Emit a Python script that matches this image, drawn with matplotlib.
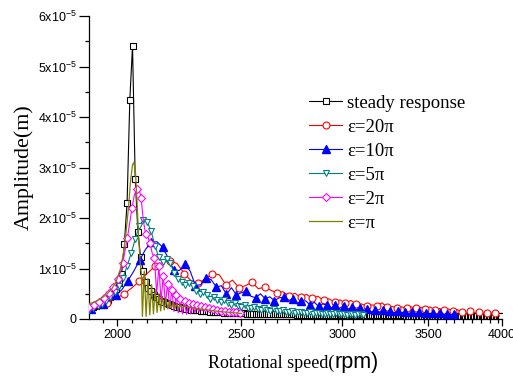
import numpy as np
import matplotlib
matplotlib.use("Agg")
import matplotlib.pyplot as plt
from matplotlib.ticker import FixedLocator, NullFormatter

plt.rcParams["mathtext.fontset"] = "custom"
plt.rcParams["mathtext.rm"] = "Liberation Sans"

# amplitudes are in units of 1e-5 m
steady_rpm = np.arange(1905, 4000, 10)
steady_amp = [
    0.220, 0.238, 0.258, 0.282, 0.310, 0.343, 0.384, 0.436, 0.502, 0.590,
    0.713, 0.900, 1.490, 2.300, 4.330, 5.410, 2.770, 1.730, 1.230, 0.960,
    0.740, 0.620, 0.545, 0.485, 0.438, 0.397, 0.363, 0.336, 0.312, 0.291,
    0.274, 0.259, 0.245, 0.233, 0.222, 0.212, 0.204, 0.196, 0.188, 0.182,
    0.175, 0.170, 0.165, 0.160, 0.155, 0.151, 0.147, 0.143, 0.140, 0.136,
    0.133, 0.130, 0.128, 0.125, 0.123, 0.120, 0.118, 0.116, 0.114, 0.112,
    0.110, 0.109, 0.108, 0.107, 0.106, 0.105, 0.104, 0.103, 0.102, 0.101,
    0.100, 0.099, 0.098, 0.098, 0.097, 0.096, 0.095, 0.095, 0.094, 0.093,
    0.093, 0.092, 0.091, 0.091, 0.090, 0.090, 0.089, 0.088, 0.088, 0.087,
    0.087, 0.086, 0.086, 0.085, 0.085, 0.084, 0.084, 0.083, 0.083, 0.083,
    0.082, 0.082, 0.081, 0.081, 0.081, 0.080, 0.080, 0.079, 0.079, 0.079,
    0.078, 0.078, 0.078, 0.077, 0.077, 0.077, 0.076, 0.076, 0.076, 0.076,
    0.075, 0.075, 0.075, 0.074, 0.074, 0.074, 0.074, 0.073, 0.073, 0.073,
    0.073, 0.072, 0.072, 0.072, 0.072, 0.072, 0.071, 0.071, 0.071, 0.071,
    0.071, 0.070, 0.070, 0.070, 0.070, 0.070, 0.069, 0.069, 0.069, 0.069,
    0.069, 0.069, 0.068, 0.068, 0.068, 0.068, 0.068, 0.068, 0.067, 0.067,
    0.067, 0.067, 0.067, 0.067, 0.067, 0.066, 0.066, 0.066, 0.066, 0.066,
    0.066, 0.066, 0.066, 0.065, 0.065, 0.065, 0.065, 0.065, 0.065, 0.065,
    0.065, 0.064, 0.064, 0.064, 0.064, 0.064, 0.064, 0.064, 0.064, 0.064,
    0.063, 0.063, 0.063, 0.063, 0.063, 0.063, 0.063, 0.063, 0.063, 0.062,
    0.062, 0.062, 0.062, 0.062, 0.062, 0.062, 0.062, 0.062, 0.062, 0.062,
]

eps20_rpm = np.arange(1905, 3990, 29.25)
eps20_amp = [
    0.22, 0.27, 0.32, 0.40, 0.49, 0.61, 0.75, 0.90, 1.04, 1.12,
    1.15, 1.10, 0.90, 0.75, 0.71, 0.80, 0.89, 0.88, 0.68, 0.77,
    0.62, 0.66, 0.73, 0.60, 0.63, 0.57, 0.52, 0.54, 0.46, 0.51,
    0.43, 0.49, 0.41, 0.45, 0.37, 0.40, 0.33, 0.38, 0.31, 0.37,
    0.29, 0.30, 0.25, 0.28, 0.26, 0.32, 0.24, 0.25, 0.22, 0.24,
    0.21, 0.24, 0.21, 0.23, 0.20, 0.24, 0.18, 0.21, 0.17, 0.20,
    0.16, 0.19, 0.13, 0.09, 0.15, 0.12, 0.14, 0.10, 0.12, 0.09,
    0.11, 0.06,
]

eps10_rpm = np.arange(1906, 3700, 22)
eps10_amp = [
    0.20, 0.24, 0.29, 0.36, 0.47, 0.58, 0.76, 0.95, 1.17, 1.38,
    1.52, 1.53, 1.42, 1.20, 0.97, 0.96, 1.08, 0.95, 0.66, 0.68,
    0.82, 0.78, 0.63, 0.66, 0.49, 0.62, 0.48, 0.52, 0.55, 0.45,
    0.42, 0.50, 0.40, 0.44, 0.36, 0.42, 0.43, 0.34, 0.40, 0.30,
    0.35, 0.36, 0.28, 0.33, 0.25, 0.30, 0.27, 0.22, 0.27, 0.21,
    0.26, 0.19, 0.23, 0.18, 0.22, 0.16, 0.20, 0.14, 0.17, 0.13,
    0.18, 0.12, 0.16, 0.11, 0.15, 0.11, 0.14, 0.10, 0.14, 0.10,
    0.13, 0.09, 0.12, 0.09, 0.11, 0.08, 0.11, 0.08, 0.10, 0.08,
    0.10, 0.08,
]

eps5_rpm = np.arange(1900, 3120, 15)
eps5_amp = [
    0.18, 0.21, 0.25, 0.30, 0.36, 0.44, 0.54, 0.66, 0.82, 1.05,
    1.30, 1.58, 1.84, 1.96, 1.93, 1.74, 1.45, 1.22, 1.12, 1.18,
    1.10, 0.92, 0.80, 0.74, 0.68, 0.72, 0.66, 0.55, 0.50, 0.54,
    0.47, 0.40, 0.44, 0.38, 0.33, 0.37, 0.31, 0.28, 0.31, 0.26,
    0.24, 0.27, 0.22, 0.21, 0.24, 0.19, 0.18, 0.21, 0.17, 0.16,
    0.19, 0.15, 0.15, 0.17, 0.13, 0.14, 0.16, 0.12, 0.13, 0.14,
    0.11, 0.12, 0.13, 0.10, 0.11, 0.12, 0.10, 0.10, 0.11, 0.09,
    0.10, 0.11, 0.09, 0.09, 0.10, 0.08, 0.09, 0.10, 0.08, 0.09,
    0.09, 0.08,
]

eps2_rpm = np.arange(1900, 2500, 8.5)
eps2_amp = [
    0.24, 0.26, 0.28, 0.31, 0.34, 0.38, 0.42, 0.47, 0.52, 0.58,
    0.64, 0.71, 0.80, 0.92, 1.10, 1.35, 1.60, 1.90, 2.20, 2.45,
    2.58, 2.60, 2.40, 1.95, 1.68, 1.62, 1.50, 1.30, 1.20, 0.50,
    1.05, 0.35, 0.86, 0.30, 0.70, 0.22, 0.58, 0.15, 0.48, 0.12,
    0.40, 0.10, 0.35, 0.09, 0.32, 0.10, 0.29, 0.12, 0.27, 0.14,
    0.25, 0.16, 0.23, 0.18, 0.21, 0.20, 0.19, 0.18, 0.17, 0.17,
    0.16, 0.16, 0.15, 0.15, 0.14, 0.14, 0.13, 0.13, 0.13, 0.12,
    0.12,
]

eps1_rpm = [
    1900, 1920, 1940, 1960, 1980, 1995, 2010, 2020, 2030, 2040,
    2048, 2055, 2060, 2066, 2072, 2078, 2084, 2088,
    2092, 2099, 2106, 2113, 2120, 2127, 2134, 2141, 2148, 2155,
    2162, 2169, 2176, 2183, 2190, 2197, 2204, 2211, 2218, 2225,
    2232, 2239, 2246, 2253,
    2270, 2300, 2350, 2400, 2450, 2500,
]
eps1_amp = [
    0.30, 0.34, 0.40, 0.48, 0.60, 0.74, 0.98, 1.25, 1.65, 2.20,
    2.75, 3.05, 3.10, 2.90, 2.30, 1.60, 1.10, 0.90,
    0.05, 0.95, 0.05, 0.80, 0.08, 0.68, 0.10, 0.58, 0.13, 0.50,
    0.16, 0.44, 0.18, 0.40, 0.20, 0.36, 0.21, 0.33, 0.21, 0.30,
    0.21, 0.28, 0.22, 0.26,
    0.24, 0.21, 0.18, 0.15, 0.13, 0.11,
]

labels = ["steady response", "\u03b5=20\u03c0", "\u03b5=10\u03c0",
          "\u03b5=5\u03c0", "\u03b5=2\u03c0", "\u03b5=\u03c0"]

fig = plt.figure(figsize=(5.13, 3.76), dpi=100)
ax = fig.add_axes([0.1735, 0.1516, 0.8051, 0.8058])

ax.plot(steady_rpm, steady_amp, color="black", lw=0.8, marker="s", ms=4.5,
        mfc="white", mec="black", mew=0.8, label=labels[0], zorder=2)
ax.plot(eps20_rpm, eps20_amp, color="red", lw=0.8, marker="o", ms=5,
        mfc="white", mec="red", mew=0.8, markevery=2, label=labels[1], zorder=3)
ax.plot(eps10_rpm, eps10_amp, color="blue", lw=0.8, marker="^", ms=5.5,
        mfc="blue", mec="blue", markevery=2, label=labels[2], zorder=4)
ax.plot(eps5_rpm, eps5_amp, color="#008080", lw=0.8, marker="v", ms=5,
        mfc="white", mec="#008080", mew=0.8, label=labels[3], zorder=5)
ax.plot(eps2_rpm, eps2_amp, color="#ff00ff", lw=0.8, marker="D", ms=4,
        mfc="white", mec="#ff00ff", mew=0.8, markevery=2, label=labels[4], zorder=6)
ax.plot(eps1_rpm, eps1_amp, color="#808000", lw=0.9, label=labels[5], zorder=7)

ax.set_xscale("log")
ax.set_xlim(1900, 4000)
ax.set_ylim(0, 6)

majors = [2000, 2500, 3000, 3500, 4000]
minors = [2000 / 10 ** 0.0115]
for a, b in zip(majors[:-1], majors[1:]):
    step = np.log10(b / a) / 8.4
    minors += [a * 10 ** (k * step) for k in range(1, 9)]
ax.xaxis.set_major_locator(FixedLocator(majors))
ax.xaxis.set_minor_locator(FixedLocator(minors))
ax.xaxis.set_minor_formatter(NullFormatter())
ax.set_xticklabels([str(m) for m in majors])

ax.set_yticks(range(7))
ax.set_yticks(np.arange(0.5, 6, 1), minor=True)
ax.set_yticklabels(["0"] + [r"$\mathregular{%dx10^{-5}}$" % i for i in range(1, 7)])

for s in ["top", "right"]:
    ax.spines[s].set_visible(False)
for s in ["left", "bottom"]:
    ax.spines[s].set_linewidth(0.9)
ax.tick_params(which="major", direction="out", length=5, width=0.9,
               labelsize=9, pad=2)
ax.tick_params(which="minor", direction="out", length=3, width=0.9)
ax.tick_params(axis="y", which="major", length=7)
for t in ax.get_xticklabels() + ax.get_yticklabels():
    t.set_fontfamily("Liberation Sans")

ax.set_ylabel("Amplitude(m)", fontfamily="Liberation Serif", fontsize=15.8, labelpad=3)
fig.text(334 / 513, 1 - 368 / 376, "Rotational speed(", ha="right", va="baseline",
         fontfamily="Liberation Serif", fontsize=13)
fig.text(335 / 513, 1 - 368 / 376, "rpm)", ha="left", va="baseline",
         fontfamily="Liberation Sans", fontsize=15.5)

ax.legend(loc="upper left", bbox_to_anchor=(300 / 513, 1 - 85 / 376),
          bbox_transform=fig.transFigure, frameon=False, numpoints=1,
          prop={"family": "Liberation Serif", "size": 13.5},
          handlelength=1.75, handletextpad=0.27, labelspacing=0.37, borderpad=0)

fig.savefig("out.png", dpi=100)
